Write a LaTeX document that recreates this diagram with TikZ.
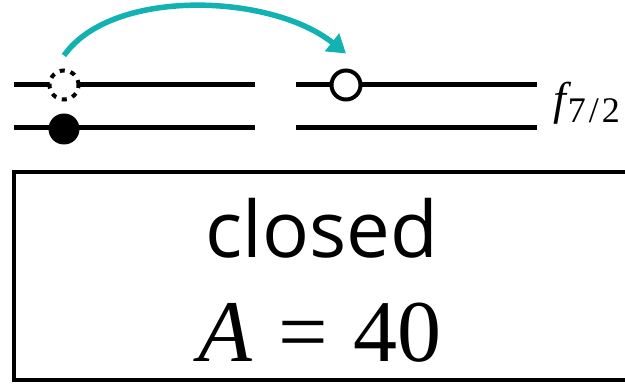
\documentclass[tikz,border=0pt]{standalone}
\usepackage{fontspec}
\setmainfont{Open Sans}
\newfontfamily\mathf{Liberation Serif}
\usetikzlibrary{arrows.meta}
\definecolor{teal1}{RGB}{18,178,178}
\tikzset{
  level/.style={line width=5pt},
  hole/.style={circle, draw, fill=white, line width=4pt, minimum size=29pt, inner sep=0pt},
  dothole/.style={hole, dash pattern=on 5pt off 6pt},
  particle/.style={circle, fill=black, minimum size=31pt, inner sep=0pt},
  jump/.style={teal1, line width=5.5pt, -{Triangle[length=18pt,width=22pt]}},
}
\begin{document}
\begin{tikzpicture}[x=1pt,y=-1pt]
\useasboundingbox (0,0) rectangle (625,385);
% levels
\coordinate (l1a) at (14,85);  \coordinate (l1b) at (255,85);
\coordinate (l2a) at (14,128); \coordinate (l2b) at (255,128);
\coordinate (r1a) at (296,85); \coordinate (r1b) at (537,85);
\coordinate (r2a) at (296,128); \coordinate (r2b) at (537,128);
\draw[level] (l1a) -- (l1b);
\draw[level] (l2a) -- (l2b);
\draw[level] (r1a) -- (r1b);
\draw[level] (r2a) -- (r2b);
% circles
\node[dothole] (dc) at (64,85) {};
\node[particle] (pc) at (64,129) {};
\node[hole] (oc) at (346,85) {};
% label
\node[anchor=base west, inner sep=0pt, font=\mathf\fontsize{46}{46}\selectfont] (lab) at (553,115)
  {\itshape f\kern2pt\raisebox{-8pt}{\upshape\fontsize{36}{36}\selectfont 7\kern3pt/\kern3pt2}};
% arrow
\draw[jump] ([yshift=13pt]dc.north) .. controls +(48,-68) and +(-75,-60) .. ([yshift=15pt]oc.north);
% box
\node[draw, line width=4pt, minimum width=628pt, minimum height=208pt, inner sep=0pt] (box) at (328,276) {};
\node[anchor=base, inner sep=0pt, font=\fontsize{78}{78}\selectfont] (t1) at (322,258) {closed};
\node[anchor=base, inner sep=0pt, font=\mathf\fontsize{88}{88}\selectfont] (t2) at (320,362) {\itshape A\upshape\ \kern4pt=\ \kern4pt40};
\end{tikzpicture}
\end{document}
